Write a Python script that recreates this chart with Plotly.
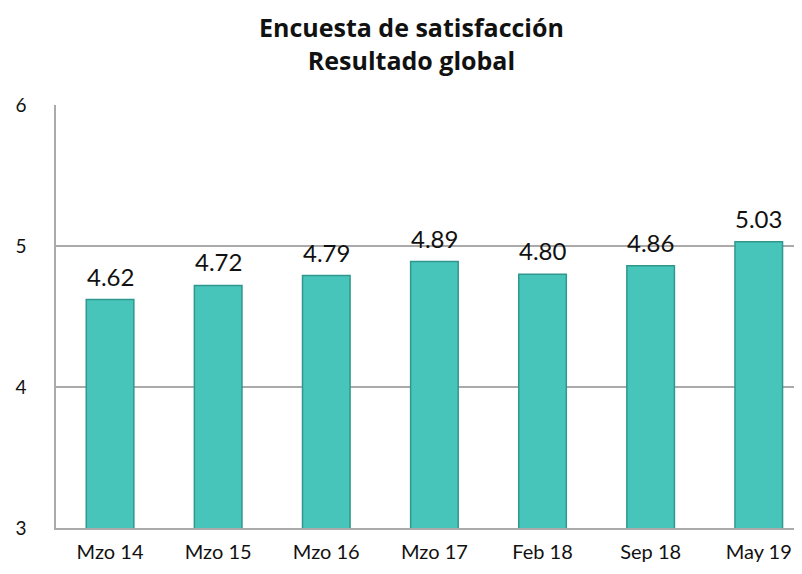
import plotly.graph_objects as go

categories = ["Mzo 14", "Mzo 15", "Mzo 16", "Mzo 17", "Feb 18", "Sep 18", "May 19"]
values = [4.62, 4.72, 4.79, 4.89, 4.80, 4.86, 5.03]
y_ticks = [3, 4, 5, 6]
title_lines = ["Encuesta de satisfacción", "Resultado global"]

BODY = "Lato, Open Sans, sans-serif"

fig = go.Figure()
fig.add_trace(go.Bar(
    x=categories, y=values,
    width=0.44,
    marker=dict(color="#48C5BB", line=dict(color="#2F978E", width=1.5)),
    hoverinfo="x+y",
))

for c, v in zip(categories, values):
    fig.add_annotation(
        x=c, y=v, xref="x", yref="y", text=f"{v:.2f}", showarrow=False,
        yanchor="bottom", yshift=7,
        font=dict(family=BODY, size=24, color="#111111"),
    )

fig.add_annotation(
    x=0.477, y=1.145, xref="paper", yref="paper",
    text="<b>" + "<br>".join(title_lines) + "</b>", showarrow=False,
    xanchor="center", yanchor="middle",
    font=dict(family="Open Sans, sans-serif", size=25, color="#111111"),
)

fig.update_layout(
    width=794, height=566,
    paper_bgcolor="white", plot_bgcolor="white",
    margin=dict(l=48, r=0, t=97, b=46),
    showlegend=False,
    font=dict(family=BODY, color="#111111"),
)
fig.update_xaxes(
    range=[-0.5, 6.4], automargin=False,
    showline=True, linecolor="#AAAAAA", linewidth=1.5,
    tickfont=dict(size=20), ticks="", ticklabelstandoff=5,
)
fig.update_yaxes(
    range=[3, 6], tickvals=y_ticks, ticktext=[str(t) for t in y_ticks],
    automargin=False,
    showgrid=True, gridcolor="#AAAAAA", gridwidth=1.5,
    showline=True, linecolor="#AAAAAA", linewidth=1.5,
    zeroline=False, tickfont=dict(size=19), ticks="", ticklabelstandoff=24,
)
fig.write_html("out.html")
